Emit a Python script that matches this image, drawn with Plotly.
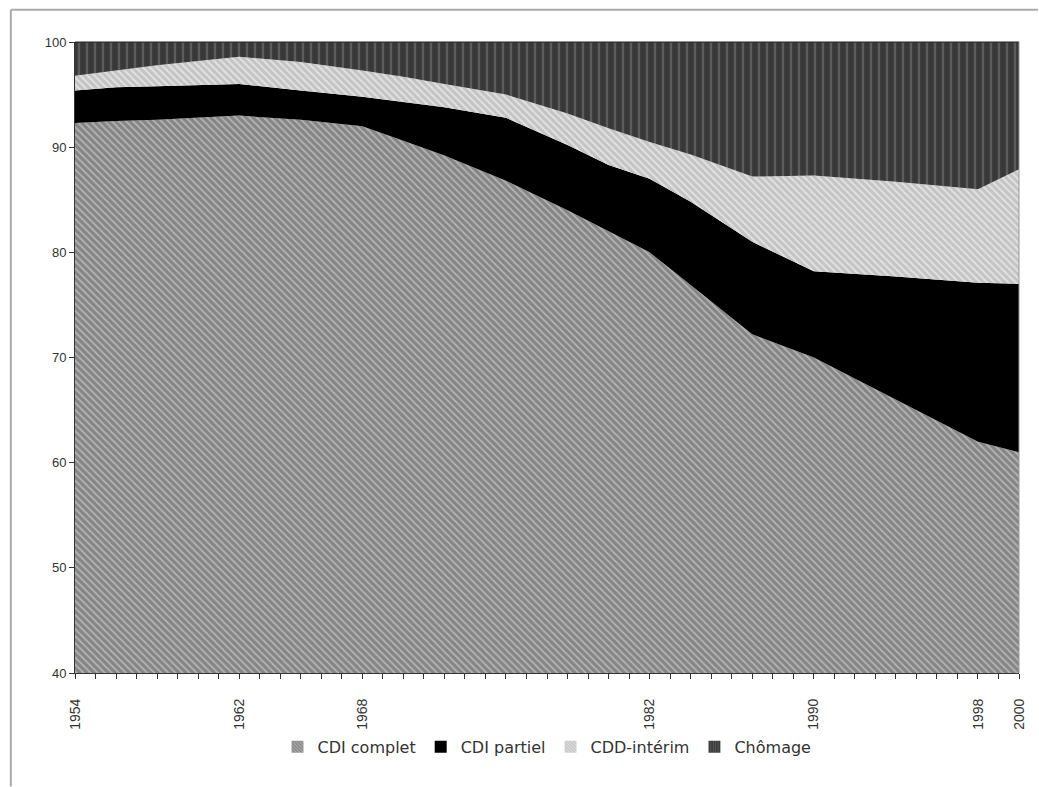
import plotly.graph_objects as go

years = [1954, 1956, 1958, 1962, 1965, 1968, 1970, 1972, 1975, 1978, 1980,
         1982, 1984, 1987, 1990, 1994, 1998, 2000]
cdi_complet = [92.3, 92.5, 92.6, 93.0, 92.6, 92.0, 90.6, 89.2, 86.8, 84.0, 82.0,
               80.0, 76.9, 72.2, 70.0, 66.0, 62.0, 61.0]
cdi_partiel = [3.1, 3.2, 3.2, 3.0, 2.8, 2.8, 3.7, 4.6, 6.0, 6.2, 6.3,
               7.0, 7.9, 8.8, 8.2, 11.7, 15.1, 16.0]
cdd_interim = [1.4, 1.6, 2.0, 2.6, 2.7, 2.5, 2.4, 2.2, 2.2, 3.0, 3.5,
               3.5, 4.5, 6.2, 9.1, 9.0, 8.9, 10.9]
chomage = [3.2, 2.7, 2.2, 1.4, 1.9, 2.7, 3.3, 4.0, 5.0, 6.8, 8.2,
           9.5, 10.7, 12.8, 12.7, 13.3, 14.0, 12.1]

tick_years = list(range(1954, 2001))
labeled_years = [1954, 1962, 1968, 1982, 1990, 1998, 2000]
tick_text = [str(y) if y in labeled_years else "" for y in tick_years]
y_ticks = [40, 50, 60, 70, 80, 90, 100]

series = [
    ("CDI complet", cdi_complet, dict(shape="\\", bgcolor="#858585", fgcolor="#b4b4b4", size=5, solidity=0.35)),
    ("CDI partiel", cdi_partiel, dict(shape="", bgcolor="#000000", fgcolor="#000000", size=5, solidity=0.3)),
    ("CDD-intérim", cdd_interim, dict(shape="\\", bgcolor="#c4c4c4", fgcolor="#e4e4e4", size=5, solidity=0.35)),
    ("Chômage", chomage, dict(shape="|", bgcolor="#383838", fgcolor="#5c5c5c", size=8, solidity=0.3)),
]

fig = go.Figure()
for name, vals, pat in series:
    fillcolor = pat["bgcolor"]
    kw = {}
    if pat["shape"]:
        kw["fillpattern"] = dict(shape=pat["shape"], bgcolor=pat["bgcolor"],
                                 fgcolor=pat["fgcolor"], size=pat["size"],
                                 solidity=pat["solidity"], fillmode="replace")
    fig.add_trace(go.Scatter(
        x=years, y=vals, name=name, mode="lines", stackgroup="one",
        line=dict(width=0, color=fillcolor), fillcolor=fillcolor,
        showlegend=False, **kw,
    ))

# legend swatches (square) via empty bar traces
for name, vals, pat in series:
    mk = dict(color=pat["bgcolor"], line=dict(width=0))
    if pat["shape"]:
        mk["pattern"] = dict(shape=pat["shape"], bgcolor=pat["bgcolor"],
                             fgcolor=pat["fgcolor"], size=3, solidity=0.4,
                             fillmode="replace")
    fig.add_trace(go.Bar(x=[None], y=[None], name=name, marker=mk, showlegend=True))

fig.update_layout(
    width=1039, height=787,
    margin=dict(l=75, r=16, t=42, b=114),
    paper_bgcolor="white", plot_bgcolor="white",
    font=dict(family="Liberation Sans, Arial, sans-serif", size=13, color="#333"),
    showlegend=True,
    legend=dict(orientation="h", x=0.5, xanchor="center", y=-0.09, yanchor="top",
                bgcolor="rgba(0,0,0,0)",
                font=dict(family="DejaVu Sans, sans-serif", size=16, color="#333"),
                traceorder="normal", itemwidth=30, tracegroupgap=0),
    xaxis=dict(range=[1954, 2000], tickmode="array", tickvals=tick_years, ticktext=tick_text,
               tickangle=-90, ticks="outside", ticklen=5, tickcolor="#333",
               ticklabelstandoff=14,
               showgrid=False, zeroline=False, showline=True, linecolor="#333",
               tickfont=dict(size=14, color="#333")),
    yaxis=dict(range=[40, 100], tickvals=y_ticks, ticks="outside", ticklen=5,
               tickcolor="#333", showgrid=False, zeroline=False, showline=True,
               linecolor="#333", tickfont=dict(size=13, color="#333")),
    shapes=[
        dict(type="line", xref="paper", yref="paper", x0=0, x1=1, y0=1, y1=1,
             line=dict(color="#222", width=1)),
        dict(type="line", xref="paper", yref="paper", x0=1, x1=1, y0=0, y1=1,
             line=dict(color="#999", width=1)),
        dict(type="line", xref="paper", yref="paper", x0=-0.068, x1=-0.068, y0=-0.18, y1=1.051,
             line=dict(color="#aaa", width=2)),
        dict(type="line", xref="paper", yref="paper", x0=-0.068, x1=1.02, y0=1.051, y1=1.051,
             line=dict(color="#aaa", width=2)),
    ],
)

fig.write_html("out.html")
